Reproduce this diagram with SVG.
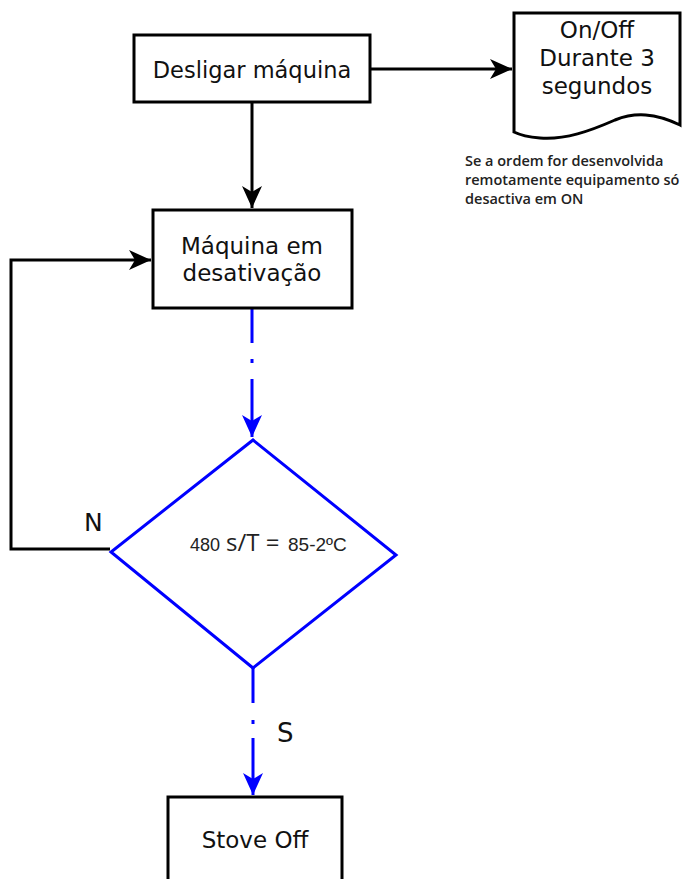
<svg xmlns="http://www.w3.org/2000/svg" width="686" height="879" viewBox="0 0 686 879">
<style>
.box{fill:#fff;stroke:#000;stroke-width:3}
.lbl{font-family:"DejaVu Sans",sans-serif;font-size:23px;fill:#111;text-anchor:middle}
.k{fill:none;stroke:#000;stroke-width:3}
.b{fill:none;stroke:#0000ff;stroke-width:3}
.note{font-family:"Open Sans",sans-serif;font-size:14.5px;font-weight:600;fill:#222}
</style>
<defs>
<marker id="ak" markerUnits="userSpaceOnUse" markerWidth="26" markerHeight="22" refX="22" refY="10" orient="auto">
<path d="M0,0 L22,10 L0,20 L6,10 Z" fill="#000"/>
</marker>
<marker id="ab" markerUnits="userSpaceOnUse" markerWidth="26" markerHeight="22" refX="22" refY="10" orient="auto">
<path d="M0,0 L22,10 L0,20 L6,10 Z" fill="#0000ff"/>
</marker>
</defs>
<g id="connectors">
<line class="k" x1="370" y1="69" x2="512" y2="69" marker-end="url(#ak)"/>
<line class="k" x1="252" y1="102" x2="252" y2="208" marker-end="url(#ak)"/>
<polyline class="k" points="110,549 11,549 11,260 151,260" marker-end="url(#ak)"/>
<path class="b" d="M252,309 V343 M252,359 V363 M252,379 V437" marker-end="url(#ab)"/>
<path class="b" d="M253,668 V703 M253,720 V724 M253,738 V795" marker-end="url(#ab)"/>
</g>
<g id="n1">
<rect class="box" x="134" y="35" width="236" height="67"/>
<text class="lbl" x="252" y="78" style="font-size:22.5px">Desligar máquina</text>
</g>
<g id="n2">
<path d="M514,13 H680 V125 C655,113 635,112 615,120 C590,131 565,140 540,138 C528,137 520,135 514,132 Z" fill="#fff" stroke="#000" stroke-width="3"/>
<text class="lbl" x="597" y="38">On/Off</text>
<text class="lbl" x="597" y="66">Durante 3</text>
<text class="lbl" x="597" y="94">segundos</text>
</g>
<g id="note">
<text class="note" x="465" y="166">Se a ordem for desenvolvida</text>
<text class="note" x="465" y="185">remotamente equipamento só</text>
<text class="note" x="465" y="204">desactiva em ON</text>
</g>
<g id="n3">
<rect class="box" x="153" y="210" width="199" height="98"/>
<text class="lbl" x="252" y="254">Máquina em</text>
<text class="lbl" x="252" y="281">desativação</text>
</g>
<g id="n4">
<polygon points="253,440 396,555 253,668 111,552" fill="#fff" stroke="#0000ff" stroke-width="3"/>
<text y="551" fill="#222"><tspan x="190" font-family="'Liberation Sans',sans-serif" font-size="18">480</tspan><tspan x="226" font-family="'Open Sans',sans-serif" font-size="24">s/T =</tspan><tspan x="288" font-family="'Liberation Sans',sans-serif" font-size="19">85-2ºC</tspan></text>
</g>
<g id="labels">
<text x="84" y="531" font-family="'DejaVu Sans',sans-serif" font-size="25" fill="#111">N</text>
<text x="277" y="742" font-family="'DejaVu Sans',sans-serif" font-size="26" fill="#111">S</text>
</g>
<g id="n5">
<rect class="box" x="168" y="797" width="174" height="100"/>
<text class="lbl" x="255" y="848">Stove Off</text>
</g>
</svg>
